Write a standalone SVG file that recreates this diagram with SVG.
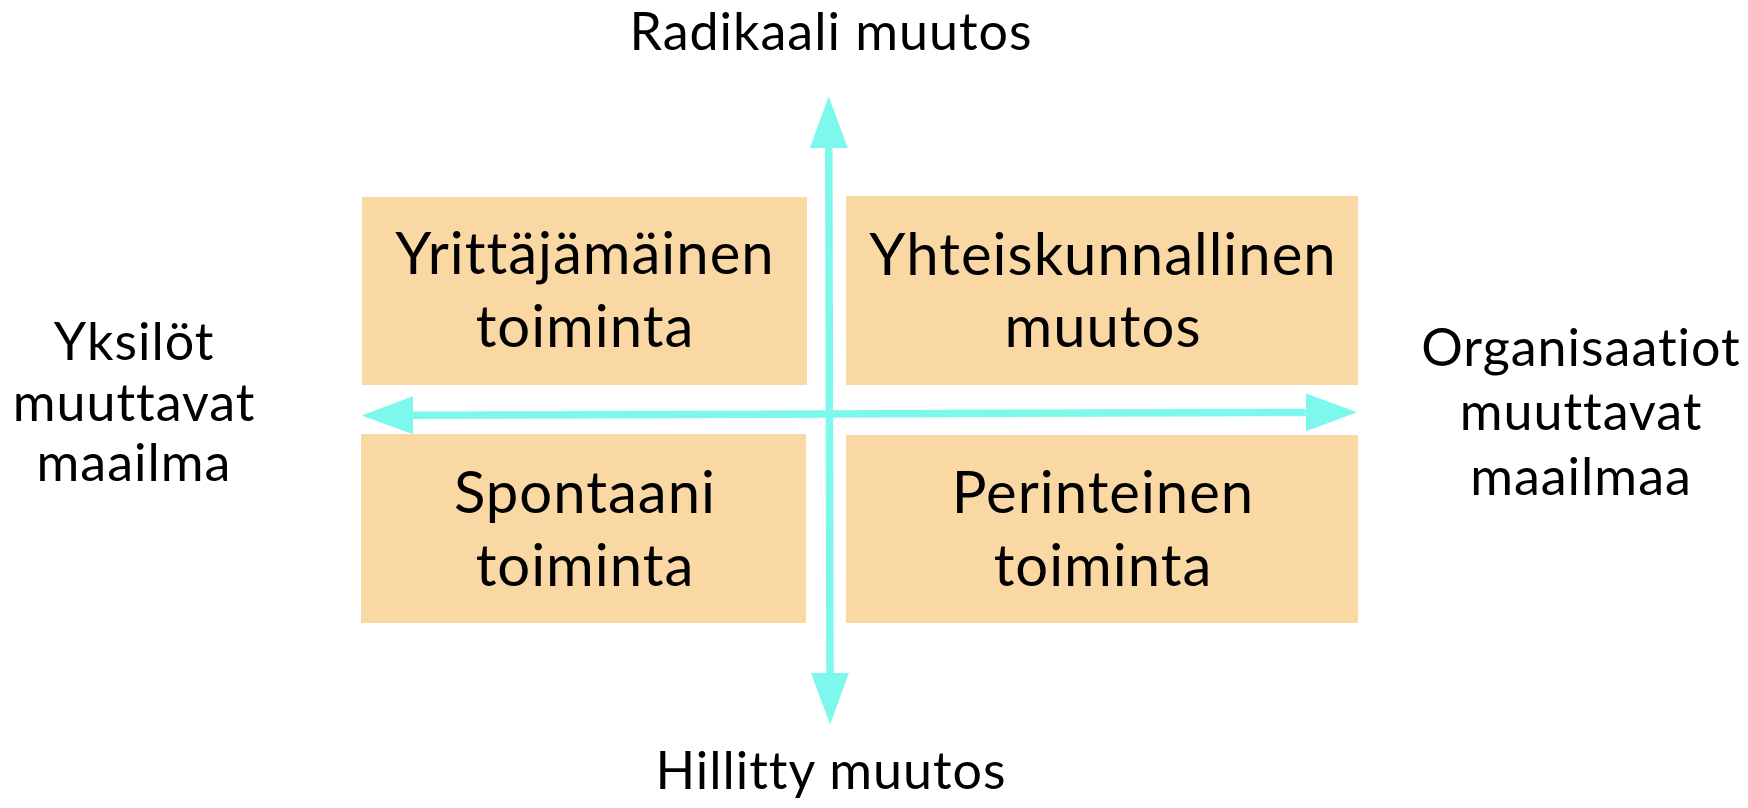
<svg xmlns="http://www.w3.org/2000/svg" width="1748" height="808" viewBox="0 0 1748 808">
  <style>
    .box { fill: #f9d8a4; }
    .t { font-family: Lato, "Noto Sans", "Liberation Sans", sans-serif; fill: #000; text-anchor: middle; letter-spacing: 1px; }
    .bt { font-size: 58px; }
    .lt { font-size: 52px; }
    .ax { stroke: #7df8ec; stroke-width: 7.5; fill: none; }
  </style>
  <defs>
    <marker id="ah" markerUnits="userSpaceOnUse" markerWidth="52" markerHeight="40" refX="0" refY="19" orient="auto-start-reverse" viewBox="0 0 52 38">
      <path d="M0,0 L51.5,19 L0,38 Z" fill="#7df8ec"/>
    </marker>
  </defs>

  <g id="node-yrittajamainen">
    <rect class="box" x="362" y="197" width="445" height="188"/>
    <text class="t bt" x="585" y="274">Yrittäjämäinen</text>
    <text class="t bt" x="585" y="347">toiminta</text>
  </g>
  <g id="node-yhteiskunnallinen">
    <rect class="box" x="846" y="196" width="512" height="189"/>
    <text class="t bt" x="1103" y="275">Yhteiskunnallinen</text>
    <text class="t bt" x="1103" y="347">muutos</text>
  </g>
  <g id="node-spontaani">
    <rect class="box" x="361" y="434" width="445" height="189"/>
    <text class="t bt" x="585" y="513">Spontaani</text>
    <text class="t bt" x="585" y="586">toiminta</text>
  </g>
  <g id="node-perinteinen">
    <rect class="box" x="846" y="435" width="512" height="188"/>
    <text class="t bt" x="1103" y="513">Perinteinen</text>
    <text class="t bt" x="1103" y="586">toiminta</text>
  </g>

  <g id="label-radikaali">
    <text class="t lt" x="831" y="50">Radikaali muutos</text>
  </g>
  <g id="label-hillitty">
    <text class="t lt" x="831" y="789">Hillitty muutos</text>
  </g>
  <g id="label-yksilot">
    <text class="t lt" x="134" y="360">Yksilöt</text>
    <text class="t lt" x="134" y="421">muuttavat</text>
    <text class="t lt" x="134" y="481">maailma</text>
  </g>
  <g id="label-organisaatiot">
    <text class="t lt" x="1581" y="366">Organisaatiot</text>
    <text class="t lt" x="1581" y="430">muuttavat</text>
    <text class="t lt" x="1581" y="495">maailmaa</text>
  </g>

  <g id="connectors">
    <line class="ax" x1="828.8" y1="148" x2="830" y2="673" marker-start="url(#ah)" marker-end="url(#ah)"/>
    <line class="ax" x1="413" y1="415.3" x2="1305.7" y2="412.4" marker-start="url(#ah)" marker-end="url(#ah)"/>
  </g>
</svg>
